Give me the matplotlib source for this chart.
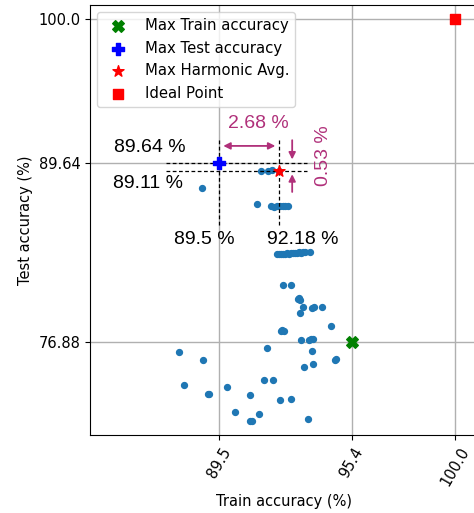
import matplotlib
matplotlib.use("Agg")
import matplotlib.pyplot as plt
import numpy as np

# ---- data ----
train_acc = [
    91.34, 91.68, 91.83, 92.18,
    88.72,
    91.19, 91.79, 91.94, 92.06, 92.20, 92.33, 92.43, 92.55,
    92.06, 92.15, 92.24, 92.33, 92.42, 92.50, 92.60, 92.68, 92.78, 92.86, 92.95, 93.05, 93.15, 93.24, 93.32, 93.54,
    92.35, 92.71,
    92.99, 93.05, 93.10,
    93.24, 93.62, 93.72, 94.09,
    93.08,
    94.49,
    92.24, 92.31, 92.40,
    93.14, 93.48, 93.59, 93.66,
    87.72, 91.61, 93.64,
    88.79, 94.66, 94.70,
    93.26, 93.68,
    87.94, 89.01, 89.05, 89.83,
    91.49, 91.88, 90.88,
    92.20, 92.68,
    90.21, 91.26, 90.87, 90.96, 93.44,
]
test_acc = [
    89.09, 89.11, 89.14, 89.11,
    87.85,
    86.74, 86.58, 86.55, 86.56, 86.56, 86.57, 86.58, 86.58,
    83.13, 83.15, 83.12, 83.18, 83.14, 83.20, 83.17, 83.22, 83.19, 83.25, 83.22, 83.27, 83.25, 83.30, 83.31, 83.29,
    80.93, 80.93,
    79.95, 79.99, 79.88,
    79.32, 79.30, 79.35, 79.35,
    78.94,
    77.96,
    77.62, 77.67, 77.60,
    77.01, 76.98, 77.03, 77.05,
    76.14, 76.45, 76.22,
    75.52, 75.59, 75.61,
    75.04, 75.30,
    73.77, 73.15, 73.15, 73.65,
    74.11, 74.11, 73.03,
    72.72, 72.74,
    71.81, 71.69, 71.16, 71.16, 71.33,
]

max_train = (95.4, 76.88)
max_test = (89.5, 89.64)
max_harm = (92.18, 89.11)
ideal = (100.0, 100.0)

x_ticks = [89.5, 95.4, 100.0]
y_ticks = [76.88, 89.64, 100.0]
x_tick_labels = ["89.5", "95.4", "100.0"]
y_tick_labels = ["76.88", "89.64", "100.0"]

legend_labels = ["Max Train accuracy", "Max Test accuracy", "Max Harmonic Avg.", "Ideal Point"]

diff_train = "2.68 %"
diff_test = "0.53 %"

# ---- figure ----
plt.rcParams["font.family"] = ["DejaVu Sans"]
plt.rcParams["font.size"] = 10.5

fig = plt.figure(figsize=(4.74, 5.13), dpi=100)
x_right_px = 478
ax = fig.add_axes([90 / 474, 1 - 435 / 513, (x_right_px - 90) / 474, (435 - 5) / 513])

ax.scatter(train_acc, test_acc, s=18, color="#1f77b4", zorder=2)

mag = "#b0307a"
ann_font = dict(family=["Liberation Sans", "DejaVu Sans"], fontsize=14)

# dashed guide lines
hx0, hx1 = 87.12, 93.4
vy0, vy1 = 85.21, 91.36
for yv in (max_test[1], max_harm[1]):
    ax.plot([hx0, hx1], [yv, yv], color="black", ls=(0, (3, 2)), lw=0.9, zorder=3)
for xv in (max_test[0], max_harm[0]):
    ax.plot([xv, xv], [vy0, vy1], color="black", ls=(0, (3, 2)), lw=0.9, zorder=3)

# arrows
ax.annotate("", xy=(92.0, 90.9), xytext=(89.68, 90.9),
            arrowprops=dict(arrowstyle="<|-|>", color=mag, lw=1.3, mutation_scale=10, shrinkA=0, shrinkB=0))
ax.annotate("", xy=(92.75, 89.93), xytext=(92.75, 91.31),
            arrowprops=dict(arrowstyle="-|>", color=mag, lw=1.3, mutation_scale=10, shrinkA=0, shrinkB=0))
ax.annotate("", xy=(92.75, 88.87), xytext=(92.75, 87.6),
            arrowprops=dict(arrowstyle="-|>", color=mag, lw=1.3, mutation_scale=10, shrinkA=0, shrinkB=0))

ax.text(91.23, 92.51, diff_train, color=mag, ha="center", va="center", **ann_font)
ax.text(94.13, 90.18, diff_test, color=mag, ha="center", va="center", rotation=90, **ann_font)
ax.text(86.39, 90.76, f"{max_test[1]} %", color="black", ha="center", va="center", **ann_font)
ax.text(86.34, 88.18, f"{max_harm[1]} %", color="black", ha="center", va="center", **ann_font)
ax.text(88.82, 84.2, f"{max_test[0]} %", color="black", ha="center", va="center", **ann_font)
ax.text(93.23, 84.2, f"{max_harm[0]} %", color="black", ha="center", va="center", **ann_font)

# special points
ax.scatter([max_train[0]], [max_train[1]], marker="X", s=70, color="green", label=legend_labels[0], zorder=5)
ax.scatter([max_test[0]], [max_test[1]], marker="P", s=80, color="blue", label=legend_labels[1], zorder=5)
ax.scatter([max_harm[0]], [max_harm[1]], marker="*", s=70, color="red", label=legend_labels[2], zorder=5)
ax.scatter([ideal[0]], [ideal[1]], marker="s", s=55, color="red", label=legend_labels[3], zorder=5)

x_left = 83.74
px_per_unit = 22.44
ax.set_xlim(x_left, x_left + (x_right_px - 90) / px_per_unit)
ax.set_ylim(70.18, 101.0)
ax.set_xticks(x_ticks)
ax.set_xticklabels(x_tick_labels, rotation=60)
ax.set_yticks(y_ticks)
ax.set_yticklabels(y_tick_labels)
ax.grid(True, color="#b0b0b0", lw=1.0, zorder=0)
ax.set_axisbelow(True)

ax.set_xlabel("Train accuracy (%)")
ax.set_ylabel("Test accuracy (%)")

ax.legend(loc="upper left", fontsize=10.7, scatterpoints=1)

fig.savefig("out.png", dpi=100)
